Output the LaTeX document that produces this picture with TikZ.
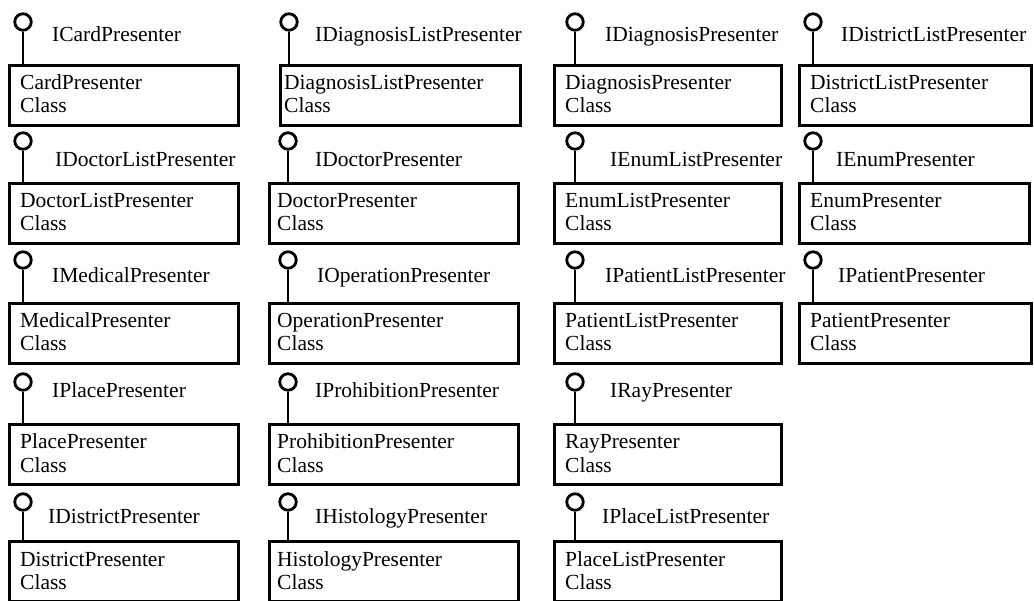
\documentclass[tikz,border=0pt]{standalone}
\usepackage{fontspec}
\setmainfont{Liberation Serif}
\begin{document}
\begin{tikzpicture}[x=1pt,y=-1pt,
  classbox/.style={draw=black,line width=3pt,fill=white,rectangle,inner sep=0pt,anchor=north west,minimum height=60pt},
  txt/.style={inner sep=0pt,anchor=base west,font=\fontsize{21.5}{25}\selectfont},
  lolli/.style={draw=black,line width=2.8pt,circle,inner sep=0pt,minimum size=16.5pt},
  stick/.style={line width=2.8pt}]
\useasboundingbox (0,0) rectangle (1034,601);
\def\txoff{12}
\newcommand\iface[9]{%
  \node[classbox,minimum width={(#3-#2)*1pt}] (#1-box) at (#2,#4) {};
  \node[txt] (#1-name) at ({#2+\txoff},{#4+26}) {#9};
  \node[txt] (#1-kind) at ({#2+\txoff},{#4+49}) {Class};
  \node[lolli] (#1-ball) at (#5,#6) {};
  \draw[stick] (#1-ball.south) -- (#1-ball.south |- #1-box.north);
  \node[txt] (#1-label) at (#7,#8) {I#9};
}
\iface{a}{8}{237}{64}{23}{22}{52}{42}{CardPresenter}
\def\txoff{5}
\iface{b}{279}{519}{64}{289}{22}{315}{42}{DiagnosisListPresenter}
\def\txoff{12}
\iface{c}{553}{780}{64}{575}{22}{605}{42}{DiagnosisPresenter}
\iface{d}{798}{1030}{64}{813}{22}{841}{42}{DistrictListPresenter}
\iface{e}{8}{237}{182}{23}{141}{55}{167}{DoctorListPresenter}
\def\txoff{9}
\iface{f}{268}{517}{182}{288}{141}{315}{167}{DoctorPresenter}
\def\txoff{12}
\iface{g}{553}{780}{182}{575}{141}{610}{167}{EnumListPresenter}
\iface{h}{798}{1028}{182}{813}{141}{836}{167}{EnumPresenter}
\iface{i}{8}{237}{302}{23}{260}{52}{283}{MedicalPresenter}
\def\txoff{9}
\iface{j}{268}{517}{302}{288}{260}{317}{283}{OperationPresenter}
\def\txoff{12}
\iface{k}{553}{780}{302}{575}{260}{605}{283}{PatientListPresenter}
\iface{l}{798}{1030}{302}{813}{260}{838}{283}{PatientPresenter}
\iface{m}{8}{237}{423}{23}{382}{52}{398}{PlacePresenter}
\def\txoff{9}
\iface{n}{268}{517}{423}{288}{382}{315}{398}{ProhibitionPresenter}
\def\txoff{12}
\iface{o}{553}{780}{423}{575}{382}{610}{398}{RayPresenter}
\iface{p}{8}{237}{540}{23}{502}{48}{523}{DistrictPresenter}
\def\txoff{9}
\iface{q}{268}{517}{540}{288}{502}{315}{523}{HistologyPresenter}
\def\txoff{12}
\iface{r}{553}{780}{540}{575}{502}{602}{523}{PlaceListPresenter}
\end{tikzpicture}
\end{document}
